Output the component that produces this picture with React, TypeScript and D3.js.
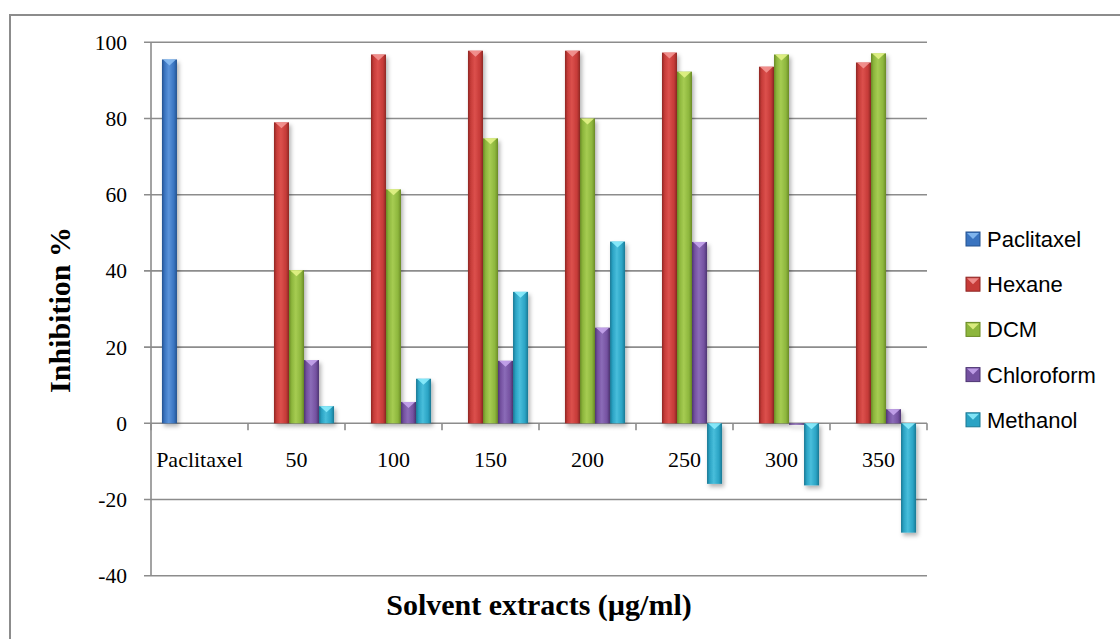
import React, { useEffect, useRef } from 'react';
import * as d3 from 'd3';

const categories = ['Paclitaxel', '50', '100', '150', '200', '250', '300', '350'];
const seriesNames = ['Paclitaxel', 'Hexane', 'DCM', 'Chloroform', 'Methanol'];

const paclitaxel = [95.5, null, null, null, null, null, null, null];
const hexane = [null, 79, 96.8, 97.8, 97.8, 97.3, 93.6, 94.7];
const dcm = [null, 40.2, 61.4, 74.8, 80, 92.3, 96.8, 97.1];
const chloroform = [null, 16.6, 5.6, 16.4, 25.1, 47.6, -0.4, 3.7];
const methanol = [null, 4.5, 11.7, 34.5, 47.7, -15.9, -16.3, -28.7];

const yTicks = [-40, -20, 0, 20, 40, 60, 80, 100];

const seriesValues = [paclitaxel, hexane, dcm, chloroform, methanol];

// dark edge, base, light highlight, top-facet colour
const palette = [
  { dark: '#24528f', base: '#3a74c0', light: '#5a93da', tip: '#8cc0f4' },
  { dark: '#8e2624', base: '#c63b38', light: '#dc504d', tip: '#f59a98' },
  { dark: '#6a8a25', base: '#8db63d', light: '#a6cc52', tip: '#e6f58a' },
  { dark: '#4d3572', base: '#7451a0', light: '#8b6bb8', tip: '#c9a8f0' },
  { dark: '#1b7893', base: '#2aa3c4', light: '#48bedb', tip: '#8ff0ff' }
];

const W = 1120;
const H = 639;
const plot = { left: 151, right: 927, top: 42.3, bottom: 575.7 };
const serif = '"Liberation Serif", "Times New Roman", serif';

const App: React.FC = () => {
  const svgRef = useRef<SVGSVGElement>(null);

  useEffect(() => {
    if (!svgRef.current) return;
    const svg = d3.select(svgRef.current);
    svg.selectAll('*').remove();

    const defs = svg.append('defs');
    palette.forEach((c, i) => {
      const g = defs.append('linearGradient')
        .attr('id', `bar-grad-${i}`)
        .attr('x1', '0').attr('x2', '1').attr('y1', '0').attr('y2', '0');
      g.append('stop').attr('offset', '0%').attr('stop-color', c.dark);
      g.append('stop').attr('offset', '18%').attr('stop-color', c.base);
      g.append('stop').attr('offset', '45%').attr('stop-color', c.light);
      g.append('stop').attr('offset', '80%').attr('stop-color', c.base);
      g.append('stop').attr('offset', '100%').attr('stop-color', c.dark);
    });
    const shadow = defs.append('filter')
      .attr('id', 'bar-shadow')
      .attr('x', '-50%').attr('y', '-10%').attr('width', '200%').attr('height', '130%');
    shadow.append('feDropShadow')
      .attr('dx', 2).attr('dy', 3).attr('stdDeviation', 2)
      .attr('flood-color', '#000').attr('flood-opacity', 0.3);

    // outer chart border (runs off the right and bottom)
    svg.append('rect')
      .attr('x', 10).attr('y', 15)
      .attr('width', 1200).attr('height', 700)
      .attr('fill', '#fff')
      .attr('stroke', '#8c8c8c')
      .attr('stroke-width', 2);

    const x0 = d3.scaleBand<string>()
      .domain(categories)
      .range([plot.left, plot.right]);

    const x1 = d3.scaleBand<string>()
      .domain(seriesNames)
      .range([0, x0.bandwidth()])
      .paddingOuter(0.73);

    const y = d3.scaleLinear()
      .domain([-40, 100])
      .range([plot.bottom, plot.top]);

    // grid lines
    svg.append('g')
      .selectAll('line')
      .data(yTicks)
      .enter()
      .append('line')
      .attr('x1', plot.left - 7)
      .attr('x2', plot.right)
      .attr('y1', d => y(d))
      .attr('y2', d => y(d))
      .attr('stroke', '#8c8c8c')
      .attr('stroke-width', 1.6);

    // y axis line
    svg.append('line')
      .attr('x1', plot.left).attr('x2', plot.left)
      .attr('y1', plot.top).attr('y2', plot.bottom)
      .attr('stroke', '#8c8c8c')
      .attr('stroke-width', 1.6);

    // category ticks on zero line
    const boundaries = categories.map(c => x0(c) as number).concat([plot.right]);
    svg.append('g')
      .selectAll('line')
      .data(boundaries)
      .enter()
      .append('line')
      .attr('x1', d => d).attr('x2', d => d)
      .attr('y1', y(0)).attr('y2', y(0) + 7)
      .attr('stroke', '#8c8c8c')
      .attr('stroke-width', 1.6);

    // y tick labels
    svg.append('g')
      .selectAll('text')
      .data(yTicks)
      .enter()
      .append('text')
      .attr('x', 127)
      .attr('y', d => y(d))
      .attr('dy', '0.35em')
      .attr('text-anchor', 'end')
      .style('font-family', serif)
      .style('font-size', '21.5px')
      .style('fill', '#000')
      .text(d => d);

    // category labels
    svg.append('g')
      .selectAll('text')
      .data(categories)
      .enter()
      .append('text')
      .attr('x', d => (x0(d) as number) + x0.bandwidth() / 2)
      .attr('y', 467)
      .attr('text-anchor', 'middle')
      .style('font-family', serif)
      .style('font-size', '22px')
      .style('fill', '#000')
      .text(d => d);

    // bars
    seriesNames.forEach((name, si) => {
      const vals = seriesValues[si];
      const g = svg.append('g').attr('filter', 'url(#bar-shadow)');
      const data = categories
        .map((c, ci) => ({ c, v: vals[ci] }))
        .filter(d => d.v !== null) as { c: string; v: number }[];
      const bw = x1.bandwidth();

      g.selectAll('rect')
        .data(data)
        .enter()
        .append('rect')
        .attr('x', d => (x0(d.c) as number) + (x1(name) as number))
        .attr('y', d => Math.min(y(d.v), y(0)))
        .attr('width', bw)
        .attr('height', d => Math.max(1.5, Math.abs(y(d.v) - y(0))))
        .attr('fill', `url(#bar-grad-${si})`);

      // top bevel facet
      g.selectAll('path')
        .data(data.filter(d => Math.abs(y(d.v) - y(0)) > 4))
        .enter()
        .append('path')
        .attr('d', d => {
          const bx = (x0(d.c) as number) + (x1(name) as number);
          const top = Math.min(y(d.v), y(0));
          return `M${bx + 1},${top}L${bx + bw - 1},${top}L${bx + bw / 2},${top + 6}Z`;
        })
        .attr('fill', palette[si].tip)
        .attr('opacity', 0.85);
    });

    // axis titles
    svg.append('text')
      .attr('transform', `translate(59,${(plot.top + plot.bottom) / 2 + 1}) rotate(-90)`)
      .attr('text-anchor', 'middle')
      .attr('dy', '0.35em')
      .style('font-family', serif)
      .style('font-size', '30px')
      .style('font-weight', 'bold')
      .style('fill', '#000')
      .text('Inhibition %');

    svg.append('text')
      .attr('x', (plot.left + plot.right) / 2)
      .attr('y', 615)
      .attr('text-anchor', 'middle')
      .style('font-family', serif)
      .style('font-size', '30px')
      .style('font-weight', 'bold')
      .style('fill', '#000')
      .text('Solvent extracts (µg/ml)');

    // legend
    const legend = svg.append('g').attr('transform', 'translate(966,239)');
    seriesNames.forEach((name, i) => {
      const row = legend.append('g').attr('transform', `translate(0,${i * 45.2})`);
      row.append('rect')
        .attr('x', 0).attr('y', -7)
        .attr('width', 14).attr('height', 14)
        .attr('fill', palette[i].base)
        .attr('stroke', palette[i].dark)
        .attr('stroke-width', 1);
      row.append('path')
        .attr('d', 'M1,-6L13,-6L7,0Z')
        .attr('fill', palette[i].tip)
        .attr('opacity', 0.85);
      row.append('text')
        .attr('x', 21)
        .attr('y', 0)
        .attr('dy', '0.36em')
        .style('font-family', '"Liberation Sans", Arial, sans-serif')
        .style('font-size', '22px')
        .style('fill', '#000')
        .text(name);
    });
  }, []);

  return (
    <svg
      ref={svgRef}
      width={W}
      height={H}
      style={{ position: 'absolute', left: 0, top: 0, background: '#fff' }}
    />
  );
};

export default App;
